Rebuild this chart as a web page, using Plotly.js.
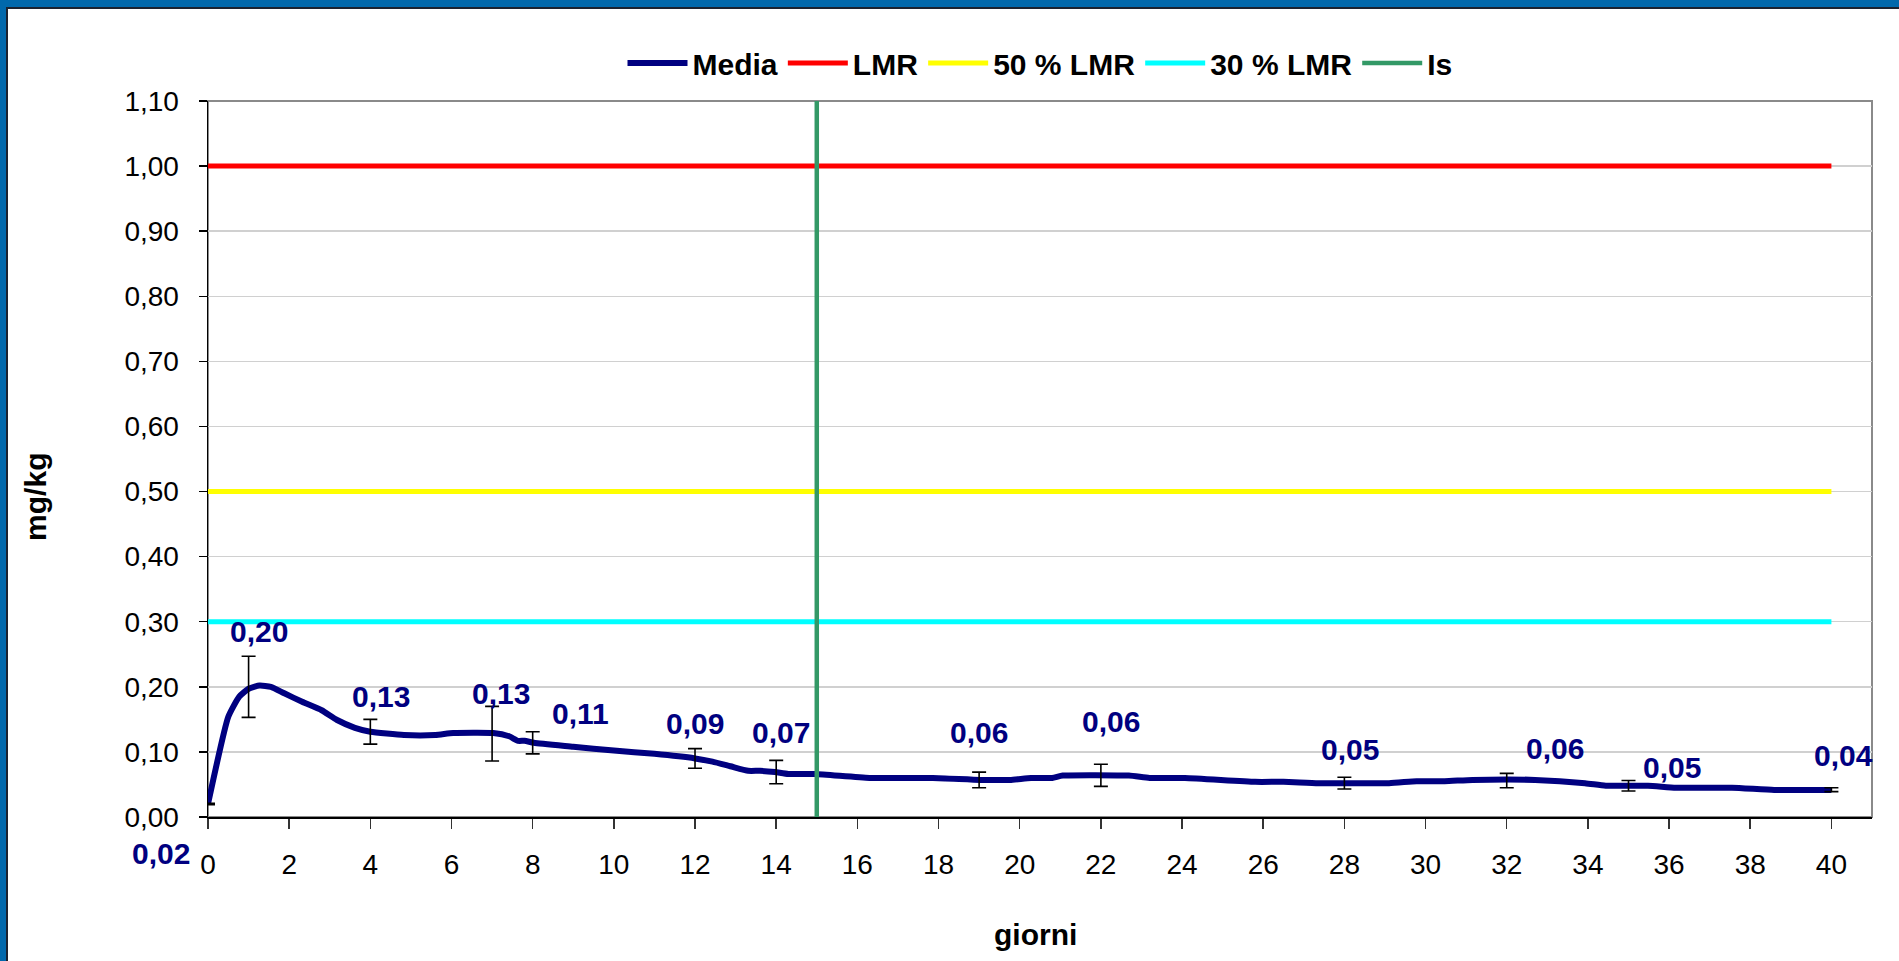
<!DOCTYPE html>
<html>
<head>
<meta charset="utf-8">
<script src="https://cdn.plot.ly/plotly-3.0.1.min.js"></script>
<style>
  html, body { margin: 0; padding: 0; background: #0168AC; width: 1899px; height: 961px; overflow: hidden; }
  #frame { position: absolute; left: 6px; top: 7px; width: 1893px; height: 954px; background: #fff; border-left: 2px solid #1b2230; border-top: 2px solid #1b2230; }
  #chart { position: absolute; left: 0; top: 0; width: 1891px; height: 952px; }
</style>
</head>
<body>
<div id="frame"><div id="chart"></div></div>
<script>
// Mean curve (giorni, mg/kg)
const curveX = [0, 0.5, 0.77, 1.0, 1.27, 1.55, 1.88, 2.32, 2.8, 3.18, 3.62, 4.0, 4.83, 5.6, 6.04, 7.03, 7.42, 7.64, 7.8, 8.03, 9.0, 10.0, 11.0, 12.0, 12.43, 12.87, 13.31, 13.6, 13.97, 14.3, 14.96, 16.3, 17.86, 19.04, 19.76, 20.28, 20.8, 21.06, 22.69, 23.2, 24.07, 25.8, 26.5, 27.36, 29.1, 29.78, 30.47, 31.16, 32.7, 33.93, 34.44, 35.48, 36.17, 37.55, 38.59, 40.0];
const curveY = [0.02, 0.154, 0.185, 0.197, 0.202, 0.200, 0.190, 0.177, 0.164, 0.149, 0.137, 0.131, 0.126, 0.126, 0.129, 0.129, 0.124, 0.117, 0.117, 0.114, 0.108, 0.102, 0.097, 0.090, 0.085, 0.078, 0.071, 0.071, 0.069, 0.066, 0.066, 0.060, 0.060, 0.057, 0.057, 0.060, 0.060, 0.0636, 0.0636, 0.060, 0.060, 0.054, 0.054, 0.052, 0.052, 0.055, 0.055, 0.057, 0.057, 0.052, 0.048, 0.048, 0.045, 0.045, 0.0415, 0.0415];

// Sampling days with mean and deviation (error bars)
const sampleX = [0, 1, 4, 7, 8, 12, 14, 19, 22, 28, 32, 35, 40];
const sampleMean = [0.02, 0.2, 0.131, 0.128, 0.114, 0.09, 0.069, 0.057, 0.064, 0.052, 0.056, 0.048, 0.042];
const sampleDev = [0.001, 0.047, 0.019, 0.042, 0.017, 0.015, 0.018, 0.012, 0.017, 0.009, 0.011, 0.008, 0.003];

// Reference limits
const limitX = [0, 40];
const lmr = 1.0;
const lmr50 = 0.5;
const lmr30 = 0.3;
const isDay = 15;
const yMax = 1.1;

// Label offsets (px) for the data labels
const labelShift = [[-47,-50],[10,55],[11,35],[9,40],[48,29],[0,35],[5,40],[0,47],[10,54],[6,34],[48,32],[44,18],[12,34]];

const xTicks = [];
for (let v = 0; v <= 40; v += 2) xTicks.push(v);

const FONT = '"Liberation Sans", Arial, sans-serif';
const NAVY = '#000080';

const traces = [
  { x: curveX, y: curveY, type: 'scatter', mode: 'lines', name: 'Media',
    line: { color: NAVY, width: 6, shape: 'spline', smoothing: 0.5 } },
  { x: limitX, y: [lmr, lmr], type: 'scatter', mode: 'lines', name: 'LMR',
    line: { color: '#FF0000', width: 5 } },
  { x: limitX, y: [lmr50, lmr50], type: 'scatter', mode: 'lines', name: '50 % LMR',
    line: { color: '#FFFF00', width: 5 } },
  { x: limitX, y: [lmr30, lmr30], type: 'scatter', mode: 'lines', name: '30 % LMR',
    line: { color: '#00FFFF', width: 5 } },
  { x: [isDay, isDay], y: [0, yMax], type: 'scatter', mode: 'lines', name: 'Is',
    line: { color: '#339966', width: 4.5 } },
  { x: sampleX, y: sampleMean, type: 'scatter', mode: 'markers', showlegend: false,
    marker: { size: 1, color: 'rgba(0,0,0,0)' },
    error_y: { type: 'data', array: sampleDev, visible: true, color: '#000', thickness: 1.6, width: 7 },
    hoverinfo: 'skip' }
];

const annotations = sampleX.map((x, i) => ({
  x: x, y: sampleMean[i], xref: 'x', yref: 'y',
  text: sampleMean[i].toFixed(2).replace('.', ','),
  showarrow: false, xanchor: 'center', yanchor: 'middle',
  xshift: labelShift[i][0], yshift: labelShift[i][1],
  font: { family: FONT, size: 30, color: NAVY, weight: 'bold' }
}));

annotations.push({
  text: 'mg/kg', xref: 'paper', yref: 'paper', x: -0.1034, y: 0.447,
  xanchor: 'center', yanchor: 'middle', textangle: -90, showarrow: false,
  font: { family: FONT, size: 30, color: '#000', weight: 'bold' }
});
annotations.push({
  text: 'giorni', xref: 'paper', yref: 'paper', x: 0.4973, y: -0.1648,
  xanchor: 'center', yanchor: 'middle', showarrow: false,
  font: { family: FONT, size: 30, color: '#000', weight: 'bold' }
});

const layout = {
  width: 1891, height: 952,
  margin: { l: 200, r: 27, t: 92, b: 144 },
  paper_bgcolor: '#ffffff', plot_bgcolor: '#ffffff',
  separators: ',.',
  font: { family: FONT, color: '#000' },
  showlegend: true,
  legend: {
    orientation: 'h', x: 0.5, xanchor: 'center', y: 1.053, yanchor: 'middle',
    font: { family: FONT, size: 30, color: '#000', weight: 'bold' },
    itemwidth: 60, traceorder: 'normal', bgcolor: 'rgba(0,0,0,0)'
  },
  xaxis: {
    range: [0, 41], tickvals: xTicks, ticktext: xTicks.map(String),
    showgrid: false, zeroline: false,
    showline: true, linecolor: '#000', linewidth: 1.5,
    ticks: 'outside', ticklen: 10, tickcolor: '#333', tickwidth: 1.5,
    tickfont: { family: FONT, size: 28, color: '#000' },
    ticklabelstandoff: 12,
    fixedrange: true
  },
  yaxis: {
    range: [0, yMax], dtick: 0.1, tick0: 0, tickformat: '.2f',
    showgrid: true, gridcolor: '#d0d0d0', gridwidth: 1.5, zeroline: false,
    showline: true, linecolor: '#000', linewidth: 1.5,
    ticks: 'outside', ticklen: 8, tickcolor: '#000', tickwidth: 1.5,
    tickfont: { family: FONT, size: 28, color: '#000' },
    ticklabelstandoff: 14,
    fixedrange: true
  },
  shapes: [
    { type: 'rect', xref: 'x domain', yref: 'y domain', x0: 0, x1: 1, y0: 0, y1: 1,
      line: { color: '#8a8a8a', width: 2 }, layer: 'below' }
  ],
  annotations: annotations
};

Plotly.newPlot('chart', traces, layout, { displayModeBar: false, staticPlot: true });
</script>
</body>
</html>
